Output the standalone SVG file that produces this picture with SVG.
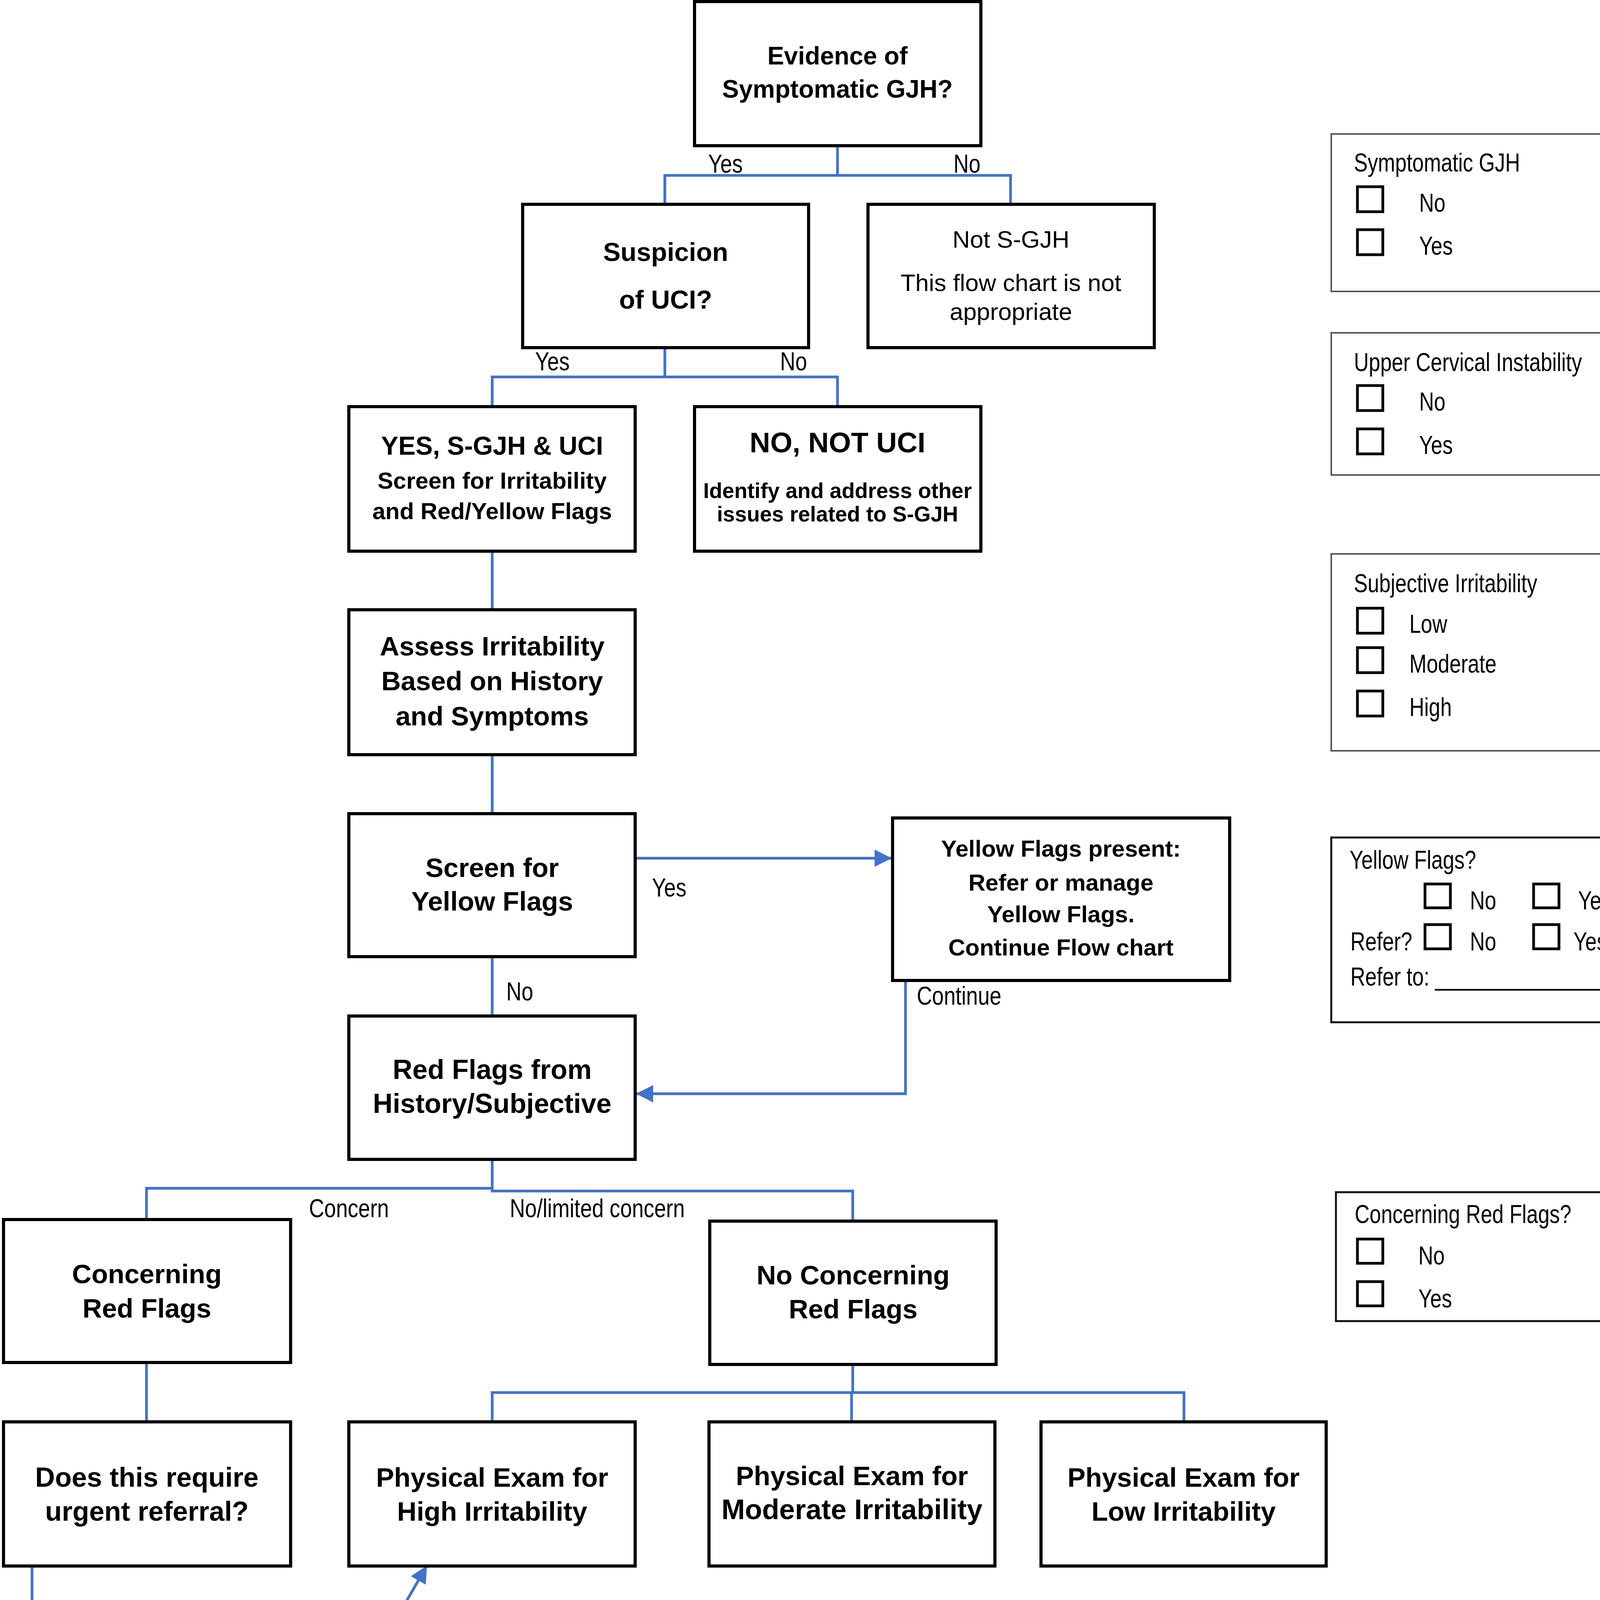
<svg xmlns="http://www.w3.org/2000/svg" width="4291" height="5054" viewBox="0 0 4291 5054">
<style>
.box{fill:#fff;stroke:#000;stroke-width:8}
.c{fill:none;stroke:#4472C4;stroke-width:7}
.t{font-family:"Liberation Sans",Arial,sans-serif;font-weight:bold;text-anchor:middle;fill:#000}
.r{font-family:"Liberation Sans",Arial,sans-serif;text-anchor:middle;fill:#000}
.l{font-family:"Liberation Sans",Arial,sans-serif;font-size:66px;fill:#000}
.p{fill:#fff;stroke:#555;stroke-width:4}
.p2{fill:#fff;stroke:#111;stroke-width:5}
.cb{fill:none;stroke:#000;stroke-width:7}
.pt{font-family:"Liberation Sans",Arial,sans-serif;font-size:66px;fill:#000}
</style>
<defs>
<marker id="ah" markerUnits="userSpaceOnUse" markerWidth="50" markerHeight="50" refX="44" refY="22" orient="auto"><path d="M0,0 L44,22 L0,44 Z" fill="#4472C4"/></marker>
</defs>
<rect x="0" y="0" width="4291" height="5054" fill="#fff"/>

<g id="connectors">
<path class="c" d="M2144,373 V449"/>
<path class="c" d="M1702,523 V449 H2587 V523"/>
<path class="c" d="M1702,890 V965"/>
<path class="c" d="M1260,1041 V965 H2144 V1041"/>
<path class="c" d="M1260,1411 V1561"/>
<path class="c" d="M1260,1932 V2083"/>
<path class="c" d="M1626,2197 H2283" stroke-width="8" marker-end="url(#ah)"/>
<path class="c" d="M1260,2449 V2601"/>
<path class="c" d="M2348,2500 H2318 V2800 H1628" marker-end="url(#ah)"/>
<path class="c" d="M375,3122 V3042 H1263"/>
<path class="c" d="M1260,2968 V3049 H2183 V3126"/>
<path class="c" d="M375,3488 V3640"/>
<path class="c" d="M2183,3493 V3565"/>
<path class="c" d="M1260,3640 V3565 H3031 V3640"/>
<path class="c" d="M2180,3565 V3640"/>
<path class="c" d="M82,4009 V4862 H191"/>
<path class="c" d="M82,4344 H191"/>
<path class="c" d="M933,4285 L1093,4008" stroke-width="8" marker-end="url(#ah)"/>
<text class="l" transform="translate(1813,442) scale(0.82,1)">Yes</text>
<text class="l" transform="translate(2441,442) scale(0.82,1)">No</text>
<text class="l" transform="translate(1370,948) scale(0.82,1)">Yes</text>
<text class="l" transform="translate(1997,948) scale(0.82,1)">No</text>
<text class="l" transform="translate(1669,2295) scale(0.82,1)">Yes</text>
<text class="l" transform="translate(1296,2561) scale(0.82,1)">No</text>
<text class="l" transform="translate(2347,2572) scale(0.82,1)">Continue</text>
<text class="l" transform="translate(791,3116) scale(0.82,1)">Concern</text>
<text class="l" transform="translate(1305,3116) scale(0.82,1)">No/limited concern</text>
</g>

<g id="n-evidence">
<rect class="box" x="1778" y="4" width="733" height="369"/>
<text class="t" font-size="64" x="2144" y="165">Evidence of</text>
<text class="t" font-size="64" x="2144" y="250">Symptomatic GJH?</text>
</g>
<g id="n-suspicion">
<rect class="box" x="1338" y="523" width="732" height="367"/>
<text class="t" font-size="67" x="1704" y="668">Suspicion</text>
<text class="t" font-size="67" x="1704" y="790">of UCI?</text>
</g>
<g id="n-notsgjh">
<rect class="box" x="2222" y="523" width="733" height="367"/>
<text class="r" font-size="62" x="2588" y="634">Not S-GJH</text>
<text class="r" font-size="62" x="2588" y="745">This flow chart is not</text>
<text class="r" font-size="62" x="2588" y="819">appropriate</text>
</g>
<g id="n-yes-uci">
<rect class="box" x="893" y="1041" width="733" height="370"/>
<text class="t" font-size="66" x="1260" y="1164">YES, S-GJH &amp; UCI</text>
<text class="t" font-size="60" x="1260" y="1251">Screen for Irritability</text>
<text class="t" font-size="60" x="1260" y="1329">and Red/Yellow Flags</text>
</g>
<g id="n-no-uci">
<rect class="box" x="1778" y="1041" width="733" height="370"/>
<text class="t" font-size="73" x="2144" y="1158">NO, NOT UCI</text>
<text class="t" font-size="55" x="2144" y="1275">Identify and address other</text>
<text class="t" font-size="55" x="2144" y="1335">issues related to S-GJH</text>
</g>
<g id="n-assess">
<rect class="box" x="893" y="1561" width="733" height="371"/>
<text class="t" font-size="69" x="1260" y="1678">Assess Irritability</text>
<text class="t" font-size="69" x="1260" y="1767">Based on History</text>
<text class="t" font-size="69" x="1260" y="1857">and Symptoms</text>
</g>
<g id="n-screen-yellow">
<rect class="box" x="893" y="2083" width="733" height="366"/>
<text class="t" font-size="69" x="1260" y="2245">Screen for</text>
<text class="t" font-size="69" x="1260" y="2331">Yellow Flags</text>
</g>
<g id="n-yellow-present">
<rect class="box" x="2285" y="2094" width="863" height="416"/>
<text class="t" font-size="60" x="2716" y="2193">Yellow Flags present:</text>
<text class="t" font-size="60" x="2716" y="2280">Refer or manage</text>
<text class="t" font-size="60" x="2716" y="2361">Yellow Flags.</text>
<text class="t" font-size="60" x="2716" y="2446">Continue Flow chart</text>
</g>
<g id="n-red-history">
<rect class="box" x="893" y="2601" width="733" height="367"/>
<text class="t" font-size="70" x="1260" y="2762">Red Flags from</text>
<text class="t" font-size="70" x="1260" y="2849">History/Subjective</text>
</g>
<g id="n-concerning">
<rect class="box" x="9" y="3122" width="735" height="366"/>
<text class="t" font-size="69" x="376" y="3285">Concerning</text>
<text class="t" font-size="69" x="376" y="3373">Red Flags</text>
</g>
<g id="n-no-concerning">
<rect class="box" x="1817" y="3126" width="733" height="367"/>
<text class="t" font-size="69" x="2184" y="3288">No Concerning</text>
<text class="t" font-size="69" x="2184" y="3375">Red Flags</text>
</g>
<g id="n-urgent">
<rect class="box" x="9" y="3640" width="735" height="369"/>
<text class="t" font-size="70" x="376" y="3806">Does this require</text>
<text class="t" font-size="70" x="376" y="3893">urgent referral?</text>
</g>
<g id="n-high">
<rect class="box" x="893" y="3640" width="733" height="369"/>
<text class="t" font-size="69" x="1260" y="3806">Physical Exam for</text>
<text class="t" font-size="69" x="1260" y="3893">High Irritability</text>
</g>
<g id="n-moderate">
<rect class="box" x="1815" y="3640" width="732" height="369"/>
<text class="t" font-size="69" x="2181" y="3802">Physical Exam for</text>
<text class="t" font-size="72" x="2181" y="3889">Moderate Irritability</text>
</g>
<g id="n-low">
<rect class="box" x="2665" y="3640" width="730" height="369"/>
<text class="t" font-size="69" x="3030" y="3806">Physical Exam for</text>
<text class="t" font-size="69" x="3030" y="3893">Low Irritability</text>
</g>
<g id="n-no-cautious">
<rect class="box" x="191" y="4160" width="733" height="367"/>
<text class="t" font-size="68" x="557" y="4236">No:</text>
<text class="t" font-size="68" x="557" y="4322">Do CAUTIOUS</text>
<text class="t" font-size="68" x="557" y="4410">physical exam, Refer</text>
<text class="t" font-size="68" x="557" y="4493">to other professional</text>
</g>
<g id="n-yes-refer">
<rect class="box" x="191" y="4681" width="733" height="365"/>
<text class="t" font-size="72" x="557" y="4771">Yes:</text>
<text class="t" font-size="62" x="557" y="4853">Refer to other</text>
<text class="t" font-size="62" x="557" y="4929">professional without</text>
<text class="t" font-size="62" x="557" y="5003">testing or treatment</text>
</g>

<g id="panel-sgjh">
<rect class="p" x="3408" y="343" width="877" height="403"/>
<text class="pt" transform="translate(3466,439) scale(0.8,1)">Symptomatic GJH</text>
<rect class="cb" x="3475" y="478" width="65" height="64"/>
<text class="pt" transform="translate(3633,542) scale(0.8,1)">No</text>
<rect class="cb" x="3475" y="588" width="65" height="64"/>
<text class="pt" transform="translate(3633,652) scale(0.8,1)">Yes</text>
</g>
<g id="panel-uci">
<rect class="p" x="3408" y="852" width="870" height="364"/>
<text class="pt" transform="translate(3466,950) scale(0.8,1)">Upper Cervical Instability</text>
<rect class="cb" x="3475" y="987" width="65" height="64"/>
<text class="pt" transform="translate(3633,1051) scale(0.8,1)">No</text>
<rect class="cb" x="3475" y="1098" width="65" height="64"/>
<text class="pt" transform="translate(3633,1162) scale(0.8,1)">Yes</text>
</g>
<g id="panel-irritability">
<rect class="p" x="3408" y="1418" width="870" height="504"/>
<text class="pt" transform="translate(3466,1516) scale(0.8,1)">Subjective Irritability</text>
<rect class="cb" x="3475" y="1557" width="65" height="64"/>
<text class="pt" transform="translate(3608,1620) scale(0.8,1)">Low</text>
<rect class="cb" x="3475" y="1658" width="65" height="64"/>
<text class="pt" transform="translate(3608,1722) scale(0.8,1)">Moderate</text>
<rect class="cb" x="3475" y="1769" width="65" height="64"/>
<text class="pt" transform="translate(3608,1833) scale(0.8,1)">High</text>
</g>
<g id="panel-yellow">
<rect class="p2" x="3408" y="2144" width="856" height="473"/>
<text class="pt" transform="translate(3455,2224) scale(0.8,1)">Yellow Flags?</text>
<rect class="cb" x="3648" y="2263" width="65" height="61"/>
<text class="pt" transform="translate(3763,2328) scale(0.8,1)">No</text>
<rect class="cb" x="3926" y="2263" width="65" height="61"/>
<text class="pt" transform="translate(4040,2328) scale(0.8,1)">Yes</text>
<text class="pt" transform="translate(3457,2433) scale(0.8,1)">Refer?</text>
<rect class="cb" x="3648" y="2367" width="65" height="62"/>
<text class="pt" transform="translate(3763,2433) scale(0.8,1)">No</text>
<rect class="cb" x="3926" y="2367" width="65" height="62"/>
<text class="pt" transform="translate(4028,2433) scale(0.8,1)">Yes</text>
<text class="pt" transform="translate(3457,2523) scale(0.8,1)">Refer to: __________________</text>
</g>
<g id="panel-redflags">
<rect class="p2" x="3420" y="3052" width="849" height="330"/>
<text class="pt" transform="translate(3468,3131) scale(0.8,1)">Concerning Red Flags?</text>
<rect class="cb" x="3475" y="3172" width="65" height="62"/>
<text class="pt" transform="translate(3631,3237) scale(0.8,1)">No</text>
<rect class="cb" x="3475" y="3281" width="65" height="62"/>
<text class="pt" transform="translate(3631,3347) scale(0.8,1)">Yes</text>
</g>
<g id="panel-specialist">
<rect class="p2" x="3438" y="4241" width="847" height="455"/>
<text class="pt" transform="translate(3487,4324) scale(0.8,1)">Refer to Specialist?</text>
<rect class="cb" x="3492" y="4360" width="65" height="64"/>
<text class="pt" transform="translate(3649,4429) scale(0.8,1)">No</text>
<rect class="cb" x="3492" y="4465" width="65" height="64"/>
<text class="pt" transform="translate(3649,4531) scale(0.8,1)">Yes</text>
<text class="pt" transform="translate(3487,4636) scale(0.8,1)">Refer to:__________________</text>
</g>
</svg>
